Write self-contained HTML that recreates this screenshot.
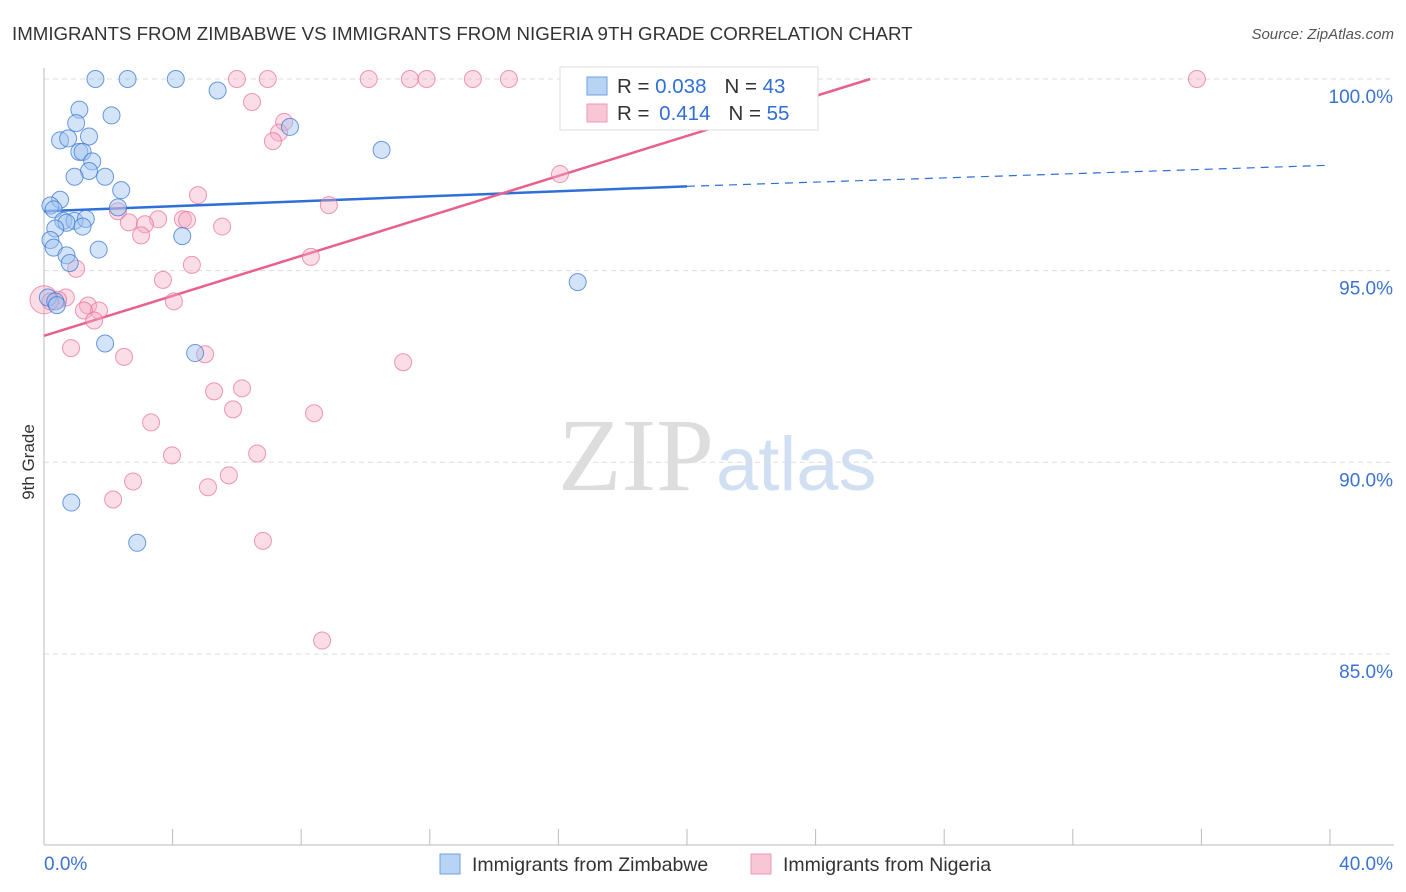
<!DOCTYPE html>
<html><head><meta charset="utf-8"><style>
body{margin:0;background:#fff;font-family:"Liberation Sans",sans-serif}
svg{display:block}
</style></head><body>
<svg id="chart" width="1406" height="892">
<text x="12" y="40" font-size="18.7" fill="#333">IMMIGRANTS FROM ZIMBABWE VS IMMIGRANTS FROM NIGERIA 9TH GRADE CORRELATION CHART</text>
<text x="1394" y="39" font-size="15" fill="#555" font-style="italic" text-anchor="end">Source: ZipAtlas.com</text>
<text x="34" y="462" font-size="17" fill="#333" transform="rotate(-90 34 462)" text-anchor="middle">9th Grade</text>
<text x="714" y="490" font-size="104" fill="#ddd" font-family="Liberation Serif,serif" text-anchor="end">ZIP</text>
<text x="716" y="490" font-size="76" fill="#d0dff2">atlas</text>
<g id="grid"></g><g id="axes"></g><g id="lines"></g><g id="pts"></g>
<g>
<rect x="560" y="67" width="258" height="63" fill="#fff" stroke="#ddd"/>
<rect x="587" y="77" width="20" height="18" fill="#b9d3f4" stroke="#6f9fe0"/>
<rect x="587" y="104" width="20" height="18" fill="#f9c6d6" stroke="#ec9ab3"/>
<text x="617" y="93" font-size="20.5" fill="#333">R = <tspan fill="#2f6fd6">0.038</tspan><tspan dx="18">N = </tspan><tspan fill="#2f6fd6">43</tspan></text>
<text x="617" y="120" font-size="20.5" fill="#333">R = <tspan dx="4" fill="#2f6fd6">0.414</tspan><tspan dx="18">N = </tspan><tspan fill="#2f6fd6">55</tspan></text>
</g>
<g>
<rect x="440" y="854" width="20" height="20" fill="#b9d3f4" stroke="#6f9fe0"/>
<text x="472" y="871" font-size="19.5" fill="#333">Immigrants from Zimbabwe</text>
<rect x="751" y="854" width="20" height="20" fill="#f9c6d6" stroke="#ec9ab3"/>
<text x="783" y="871" font-size="19.5" fill="#333">Immigrants from Nigeria</text>
</g>
</svg>
<script>
const yTicks=[100,95,90,85];
const yTickLabels=["100.0%","95.0%","90.0%","85.0%"];
const xTickLabels=["0.0%","40.0%"];
const zimX=[1.6,2.6,4.1,5.4,1.1,2.1,1.0,1.4,0.5,0.75,1.1,1.2,1.5,1.4,0.95,1.9,2.4,0.5,0.2,0.3,2.3,0.6,0.95,1.3,0.7,0.35,1.2,4.3,0.2,0.3,1.7,0.7,0.8,0.12,0.35,0.4,1.9,4.7,0.85,2.9,7.65,10.5,16.6];
const zimY=[100,100,100,99.7,99.2,99.05,98.85,98.5,98.4,98.45,98.1,98.1,97.85,97.6,97.45,97.45,97.1,96.85,96.7,96.6,96.65,96.3,96.3,96.35,96.25,96.1,96.15,95.9,95.8,95.6,95.55,95.4,95.2,94.3,94.2,94.1,93.1,92.85,88.95,87.9,98.75,98.15,94.7];
const nigX=[6.0,6.96,10.1,11.38,11.9,13.34,14.46,16.67,35.86,6.47,7.47,7.31,7.12,16.05,4.79,2.3,8.86,2.64,3.55,4.32,4.45,3.14,3.02,5.54,8.3,1.0,4.6,3.7,0.68,0.44,1.37,1.71,1.24,4.04,1.56,0.84,2.49,5.01,11.17,5.29,6.16,5.88,8.4,3.33,3.98,6.63,5.75,2.77,5.1,2.15,6.81,8.65,0.0,0.2];
const nigY=[100,100,100,100,100,100,100,100,100,99.4,98.88,98.6,98.38,97.52,96.97,96.55,96.71,96.26,96.34,96.34,96.32,96.21,95.92,96.15,95.36,95.05,95.15,94.76,94.3,94.24,94.09,93.96,93.96,94.2,93.7,92.98,92.75,92.82,92.61,91.85,91.93,91.38,91.28,91.04,90.18,90.23,89.66,89.5,89.35,89.03,87.95,85.35,94.24,94.2];
const blueLine=[96.55,97.2,97.75];
const pinkLine=[93.3,100.0];
const pinkEndX=25.7;
const NS="http://www.w3.org/2000/svg";
const sx=v=>44+v*32.15, sy=v=>79+(100-v)*38.33;
function mk(t,a,p){const e=document.createElementNS(NS,t);for(const k in a)e.setAttribute(k,a[k]);p.appendChild(e);return e;}
const grid=document.getElementById('grid'),axes=document.getElementById('axes'),lines=document.getElementById('lines'),pts=document.getElementById('pts');
yTicks.forEach((v,i)=>{
 const l=mk('line',{x1:44,x2:1394,y1:sy(v),y2:sy(v),stroke:'#ddd','stroke-dasharray':'5,4'},grid);
 
 
 const t=mk('text',{x:1393,y:sy(v)+24,'font-size':19,fill:'#3b73d1','text-anchor':'end'},axes);t.textContent=yTickLabels[i];
 
 
});
mk('line',{x1:44,x2:44,y1:68,y2:845,stroke:'#bbb'},axes);
mk('line',{x1:44,x2:1394,y1:845,y2:845,stroke:'#bbb'},axes);
for(let i=1;i<=10;i++){mk('line',{x1:sx(i*4),x2:sx(i*4),y1:829,y2:845,stroke:'#bbb'},axes);}
[[0,'start',44],[1,'end',1393]].forEach(([i,a,x])=>{const t=mk('text',{x:x,y:870,'font-size':19,fill:'#3b73d1','text-anchor':a},axes);t.textContent=xTickLabels[i];
 
 });
const bl=mk('line',{x1:sx(0),y1:sy(blueLine[0]),x2:sx(20),y2:sy(blueLine[1]),stroke:'#2f6fd6','stroke-width':2.5},lines);


const bd=mk('line',{x1:sx(20),y1:sy(blueLine[1]),x2:sx(40),y2:sy(blueLine[2]),stroke:'#2f6fd6','stroke-width':1.2,'stroke-dasharray':'8,6'},lines);


const pl=mk('line',{x1:sx(0),y1:sy(pinkLine[0]),x2:sx(pinkEndX),y2:sy(pinkLine[1]),stroke:'#e8618c','stroke-width':2.5},lines);


nigX.forEach((x,i)=>{const c=mk('circle',{cx:sx(x),cy:sy(nigY[i]),r:i==52?14:8.5,fill:'rgba(246,170,194,0.4)',stroke:'rgba(232,110,150,0.7)','stroke-width':1},pts);
 
 });
zimX.forEach((x,i)=>{const c=mk('circle',{cx:sx(x),cy:sy(zimY[i]),r:8.5,fill:'rgba(160,196,240,0.45)',stroke:'rgba(60,120,215,0.75)','stroke-width':1},pts);
 
 });
</script>
</body></html>
